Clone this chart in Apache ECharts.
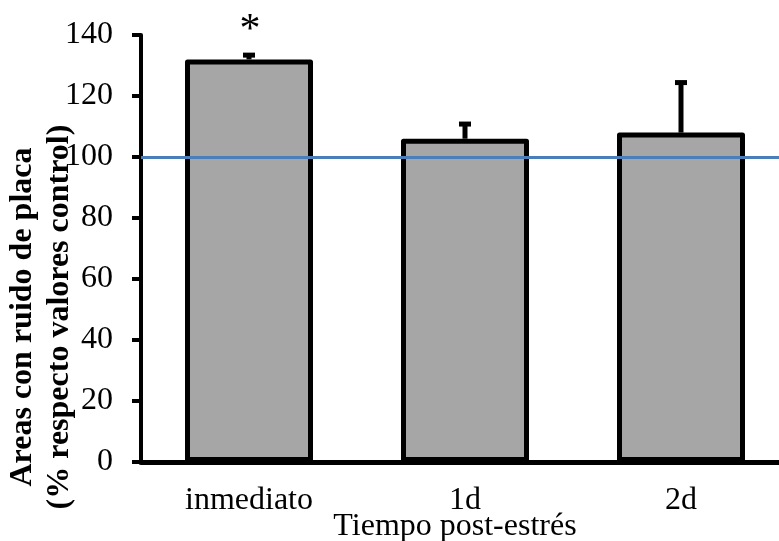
<!DOCTYPE html>
<html>
<head>
<meta charset="utf-8">
<script src="https://cdn.jsdelivr.net/npm/echarts@6/dist/echarts.min.js"></script>
<style>
  html, body { margin: 0; padding: 0; background: #fff; }
  #chart { width: 779px; height: 541px; }
</style>
</head>
<body>
<div id="chart"></div>
<script>
// Plaque-noise areas after stress, relative to control (%)
const categories = ['inmediato', '1d', '2d'];
const meanValues = [132, 106, 108];
const errorValues = [1.4, 4.8, 16.4];
const significance = ['*', '', ''];
const controlLevel = 100;
const yMin = 0;
const yMax = 140;
const yStep = 20;

const serif = "'Liberation Serif', 'Times New Roman', serif";

const errorData = categories.map((c, i) => [i, meanValues[i], meanValues[i] + errorValues[i], significance[i]]);

const chart = echarts.init(document.getElementById('chart'), null, { renderer: 'canvas' });

chart.setOption({
  animation: false,
  backgroundColor: '#ffffff',
  grid: { left: 141, top: 35, width: 648, height: 427, containLabel: false, outerBoundsMode: 'none' },
  xAxis: {
    type: 'category',
    data: categories,
    axisLine: { show: true, lineStyle: { color: '#000', width: 5 } },
    axisTick: { show: false },
    axisLabel: { color: '#000', fontFamily: serif, fontSize: 32, margin: 23 },
    splitLine: { show: false }
  },
  yAxis: {
    type: 'value',
    min: yMin,
    max: yMax,
    interval: yStep,
    axisLine: { show: true, lineStyle: { color: '#000', width: 4 } },
    axisTick: { show: true, inside: false, length: 9, lineStyle: { color: '#000', width: 4 } },
    axisLabel: { color: '#000', fontFamily: serif, fontSize: 32, margin: 28 },
    splitLine: { show: false }
  },
  graphic: [
    {
      type: 'text',
      x: 41,
      y: 317,
      rotation: Math.PI / 2,
      style: {
        text: 'Areas con ruido de placa\n(% respecto valores control)',
        font: 'bold 32px ' + serif,
        fill: '#000',
        align: 'center',
        verticalAlign: 'middle',
        lineHeight: 37
      }
    },
    {
      type: 'text',
      x: 455,
      y: 527,
      style: {
        text: 'Tiempo post-estrés',
        font: '32px ' + serif,
        fill: '#000',
        align: 'center',
        verticalAlign: 'middle'
      }
    }
  ],
  series: [
    {
      type: 'bar',
      data: meanValues,
      barWidth: 128,
      itemStyle: { color: '#a6a6a6', borderColor: '#000', borderWidth: 5, borderJoin: 'round' },
      markLine: {
        silent: true,
        symbol: 'none',
        label: { show: false },
        lineStyle: { color: '#4a7ebb', width: 3, type: 'solid' },
        data: [{ yAxis: controlLevel }]
      },
      z: 2
    },
    {
      type: 'custom',
      data: errorData,
      encode: { x: 0, y: 2 },
      z: 5,
      renderItem: function (params, api) {
        const idx = api.value(0);
        const base = api.coord([idx, api.value(1)]);
        const top = api.coord([idx, api.value(2)]);
        const mark = errorData[params.dataIndex][3];
        return {
          type: 'group',
          children: [
            {
              type: 'line',
              shape: { x1: top[0], y1: top[1], x2: base[0], y2: base[1] },
              style: { stroke: '#000', lineWidth: 5 }
            },
            {
              type: 'line',
              shape: { x1: top[0] - 6, y1: top[1], x2: top[0] + 6, y2: top[1] },
              style: { stroke: '#000', lineWidth: 5 }
            },
            {
              type: 'text',
              x: top[0] + 1,
              y: top[1] - 24,
              style: {
                text: mark,
                font: '42px ' + serif,
                fill: '#000',
                align: 'center',
                verticalAlign: 'middle'
              }
            }
          ]
        };
      }
    }
  ]
});
</script>
</body>
</html>
